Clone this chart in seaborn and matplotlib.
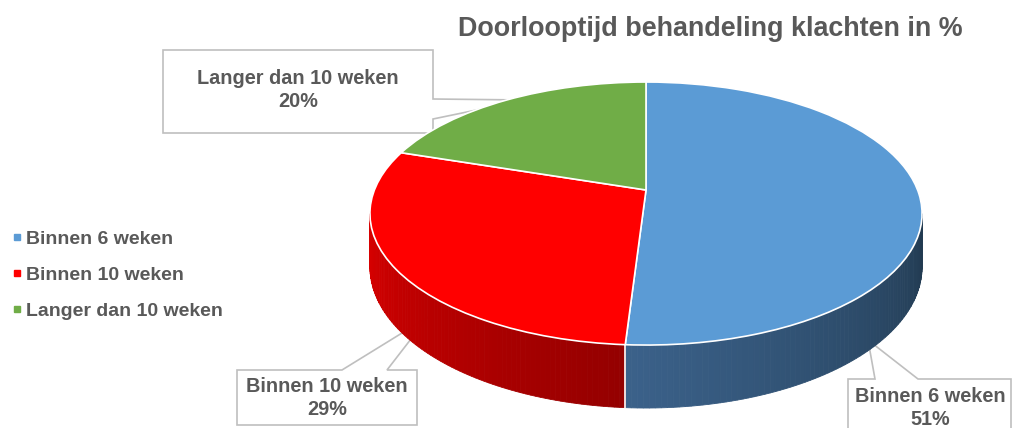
import numpy as np
import matplotlib
matplotlib.use('Agg')
import matplotlib.pyplot as plt
import matplotlib.transforms as mtransforms
from matplotlib.lines import Line2D
import seaborn as sns

# Data
categories = ['Binnen 6 weken', 'Binnen 10 weken', 'Langer dan 10 weken']
percentages = [51, 29, 20]
top_colors = ['#5B9BD5', '#FF0000', '#70AD47']
side_colors = [('#3B618A', '#213A50'), ('#DA0000', '#940000'), ('#5A8A38', '#3F6428')]
title = 'Doorlooptijd behandeling klachten in %'

sns.set_theme(style='white')
plt.rcParams['font.family'] = ['Liberation Sans', 'DejaVu Sans']
text_color = '#595959'
edge_grey = '#BFBFBF'

# Pie geometry in figure pixels
cx, cy = 646, 190
rx, ry = 271.6, 127.3
k = 0.179          # perspective strength
depth = 51.7       # wall height


class Tilt(mtransforms.Transform):
    # maps the flat unit pie onto a tilted disc seen in perspective
    input_dims = 2
    output_dims = 2

    def transform_non_affine(self, values):
        values = np.asarray(values, dtype=float)
        u, v = values[:, 0], values[:, 1]
        s = 1 / (1 + k * v)
        return np.column_stack([cx + rx * u * s, cy - ry * v * s])


def project(t, z=0.0):
    u, v = np.cos(t), np.sin(t)
    s = 1 / (1 + k * v)
    return cx + rx * u * s, cy - ry * v * s + z * depth * s


fig = plt.figure(figsize=(10.14, 4.28), dpi=100)
ax = fig.add_axes([0, 0, 1, 1])

# Callout boxes (behind the pie)
callouts = [
    [(848, 379), (875, 379), (868, 340), (918, 379), (1011, 379), (1011, 440), (848, 440)],
    [(237, 370), (342, 370), (428, 317), (387, 370), (417, 370), (417, 425), (237, 425)],
    [(163, 50), (433, 50), (433, 99), (525, 100), (433, 119), (433, 133), (163, 133)],
]
for poly in callouts:
    ax.fill(*zip(*poly), facecolor='white', edgecolor=edge_grey, lw=1.2, zorder=1)

# Side walls of the visible front half
fractions = np.array(percentages) / sum(percentages)
starts = 90 - 360 * np.concatenate([[0], np.cumsum(fractions)[:-1]])
ends = starts - 360 * fractions
vis_lo = np.pi + np.arcsin(k)
vis_hi = 2 * np.pi - np.arcsin(k)
for i in range(len(categories)):
    lo = np.radians(ends[i]) % (2 * np.pi)
    hi = lo + np.radians(360 * fractions[i])
    for shift in (0, 2 * np.pi, -2 * np.pi):
        a, b = max(lo + shift, vis_lo), min(hi + shift, vis_hi)
        if b <= a:
            continue
        c0 = np.array(matplotlib.colors.to_rgb(side_colors[i][0]))
        c1 = np.array(matplotlib.colors.to_rgb(side_colors[i][1]))
        n = 80
        ts = np.linspace(a, b, n + 1)
        for j in range(n):
            t_seg = np.linspace(ts[j], ts[j + 1], 3)
            xt, yt = project(t_seg)
            xb, yb = project(t_seg[::-1], 1)
            f = j / (n - 1)
            col = c0 * (1 - f) + c1 * f
            ax.fill(np.r_[xt, xb], np.r_[yt, yb], color=col, lw=0.6, ec=col, zorder=2)

# White seams on the wall where slices meet
for ang in starts:
    t = np.radians(ang) % (2 * np.pi)
    if vis_lo < t < vis_hi:
        x0, y0 = project(t)
        x1, y1 = project(t, 1)
        ax.plot([x0, x1], [y0, y1], color='white', lw=1.2, zorder=2.5)

# Top of the pie
wedges, _ = ax.pie(percentages, colors=top_colors, startangle=90, counterclock=False,
                   radius=1, center=(0, 0),
                   wedgeprops=dict(edgecolor='white', linewidth=1.2))
tilt = Tilt() + ax.transData
for w in wedges:
    w.set_transform(tilt)
    w.set_zorder(3)

ax.set_aspect('auto')
ax.set_xlim(0, 1014)
ax.set_ylim(428, 0)
ax.axis('off')

# Callout labels
label_pos = [(930, 408), (327, 398), (298, 90)]
for (x, y), cat, p in zip(label_pos, categories, percentages):
    ax.text(x, y, f'{cat}\n{p}%', ha='center', va='center', fontsize=14.3,
            fontweight='bold', color=text_color, linespacing=1.22, zorder=4)

# Title
fig.text(710 / 1014, 1 - 29 / 428, title, ha='center', va='center',
         fontsize=19.4, fontweight='bold', color=text_color)

# Legend
handles = [Line2D([], [], marker='s', ls='', color=c, markersize=5) for c in top_colors]
fig.legend(handles, categories, loc='center left', bbox_to_anchor=(0.0, 1 - 275 / 428),
           frameon=False, prop=dict(weight='bold', size=14), labelcolor=text_color,
           handletextpad=0.05, handlelength=0.9, labelspacing=0.95, borderaxespad=0)

fig.savefig('out.png', dpi=100)
